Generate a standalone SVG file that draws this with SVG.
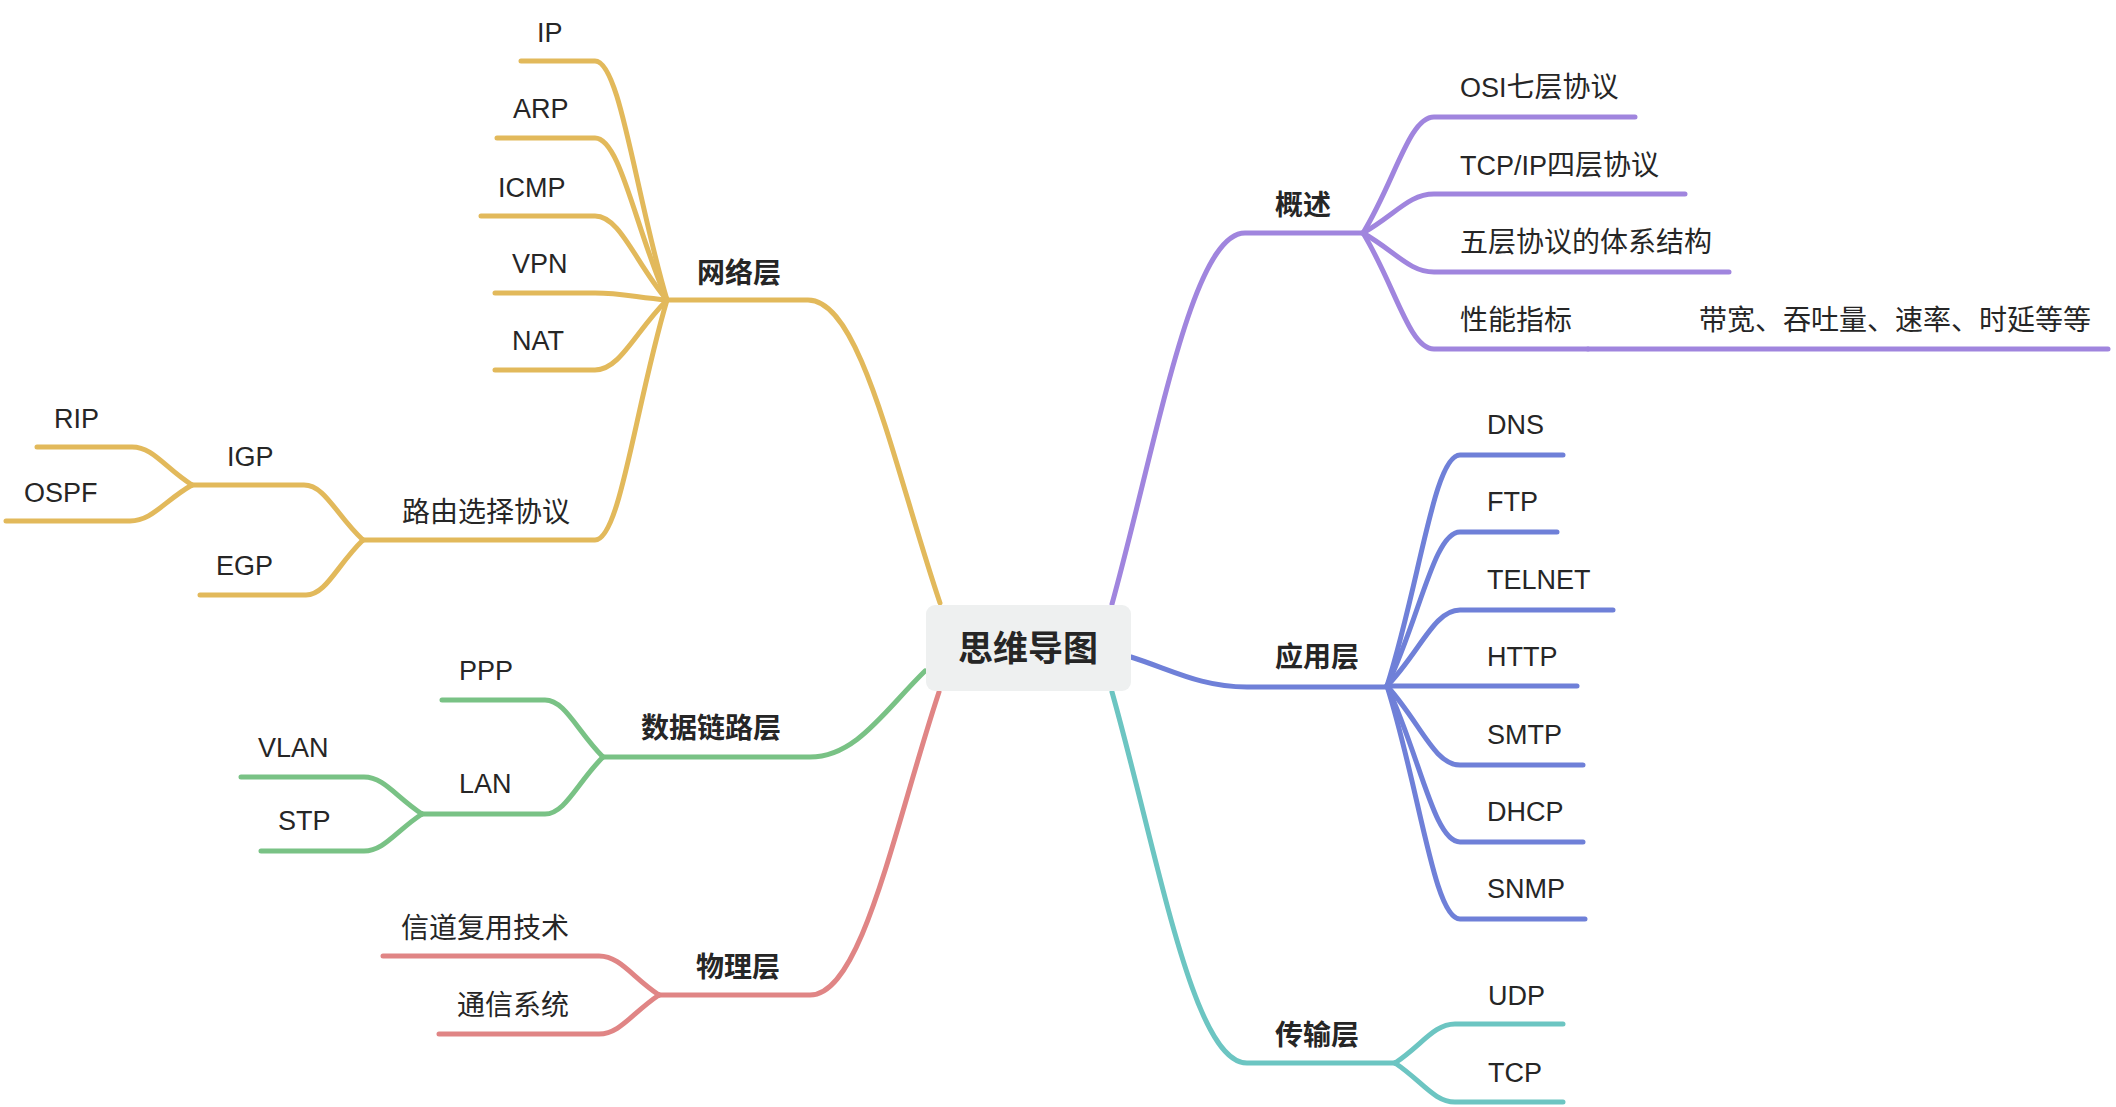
<svg xmlns="http://www.w3.org/2000/svg" width="2116" height="1107" viewBox="0 0 2116 1107">
  <style>
    .ln { fill: none; stroke-width: 5; stroke-linecap: round; stroke-linejoin: round; }
    .y { stroke: #E2B95B; }
    .p { stroke: #A085DE; }
    .b { stroke: #6F80D8; }
    .t { stroke: #6CC5C2; }
    .g { stroke: #79C285; }
    .r { stroke: #E08585; }
    text { font-family: "Liberation Sans", "Noto Sans CJK SC", sans-serif; font-size: 27px; fill: #262626; }
    .cjk { font-size: 28px; }
    .main { font-weight: bold; font-size: 28px; }
    .root { font-weight: bold; font-size: 35px; text-anchor: middle; }
  </style>

  <rect width="2116" height="1107" fill="#FFFFFF"/>

  <!-- branch lines -->
  <g id="connectors">
    <!-- 网络层 -->
    <path class="ln y" d="M940,603 C894,467 861,300 808,300 H667"/>
    <path class="ln y" d="M667,300 C635,192 620,61 595,61 H521"/>
    <path class="ln y" d="M667,300 C635,227 620,138 595,138 H497"/>
    <path class="ln y" d="M667,300 C635,262 620,216 595,216 H481"/>
    <path class="ln y" d="M667,300 C635,297 620,293 595,293 H495"/>
    <path class="ln y" d="M667,300 C635,332 620,370 595,370 H495"/>
    <path class="ln y" d="M667,300 C635,408 620,540 595,540 H363"/>
    <path class="ln y" d="M363,540 C336,515 325,485 304,485 H192"/>
    <path class="ln y" d="M363,540 C337,565 326,595 306,595 H200"/>
    <path class="ln y" d="M192,485 C165,468 153,447 132,447 H37"/>
    <path class="ln y" d="M192,485 C164,501 152,521 130,521 H6"/>

    <!-- 数据链路层 -->
    <path class="ln g" d="M925,671 C885,710 856,757 810,757 H603"/>
    <path class="ln g" d="M603,757 C577,731 565,700 545,700 H442"/>
    <path class="ln g" d="M603,757 C577,783 565,814 545,814 H422"/>
    <path class="ln g" d="M422,814 C396,797 384,777 364,777 H241"/>
    <path class="ln g" d="M422,814 C396,831 384,851 364,851 H261"/>

    <!-- 物理层 -->
    <path class="ln r" d="M939,692 C894,828 862,995 810,995 H659"/>
    <path class="ln r" d="M659,995 C632,977 620,956 599,956 H383"/>
    <path class="ln r" d="M659,995 C632,1013 620,1034 599,1034 H439"/>

    <!-- 概述 -->
    <path class="ln p" d="M1112,604 C1158,437 1192,233 1245,233 H1363"/>
    <path class="ln p" d="M1363,233 C1395,181 1409,117 1434,117 H1635"/>
    <path class="ln p" d="M1363,233 C1395,215 1409,194 1434,194 H1685"/>
    <path class="ln p" d="M1363,233 C1395,251 1409,272 1434,272 H1729"/>
    <path class="ln p" d="M1363,233 C1395,285 1409,349 1434,349 H1588"/>
    <path class="ln p" d="M1588,349 H2108"/>

    <!-- 应用层 -->
    <path class="ln b" d="M1131,657 C1172,670 1201,687 1247,687 H1387"/>
    <path class="ln b" d="M1387,686 C1420,582 1434,455 1460,455 H1563"/>
    <path class="ln b" d="M1387,686 C1420,617 1434,532 1460,532 H1557"/>
    <path class="ln b" d="M1387,686 C1420,652 1434,610 1460,610 H1613"/>
    <path class="ln b" d="M1387,686 H1577"/>
    <path class="ln b" d="M1387,686 C1420,722 1434,765 1460,765 H1583"/>
    <path class="ln b" d="M1387,686 C1420,756 1434,842 1460,842 H1583"/>
    <path class="ln b" d="M1387,686 C1420,791 1434,919 1460,919 H1585"/>

    <!-- 传输层 -->
    <path class="ln t" d="M1112,692 C1159,859 1193,1063 1247,1063 H1395"/>
    <path class="ln t" d="M1395,1063 C1422,1045 1434,1024 1455,1024 H1563"/>
    <path class="ln t" d="M1395,1063 C1422,1081 1434,1102 1455,1102 H1563"/>
  </g>

  <!-- central topic -->
  <g id="root">
    <rect x="926" y="605" width="205" height="86" rx="9" fill="#EEF0F0"/>
    <text class="root" x="1028" y="661">思维导图</text>
  </g>

  <!-- 网络层 -->
  <g id="network"><text class="main" x="697" y="283">网络层</text></g>
  <g id="ip"><text x="537" y="42">IP</text></g>
  <g id="arp"><text x="513" y="118">ARP</text></g>
  <g id="icmp"><text x="498" y="197">ICMP</text></g>
  <g id="vpn"><text x="512" y="273">VPN</text></g>
  <g id="nat"><text x="512" y="350">NAT</text></g>
  <g id="routing"><text class="cjk" x="402" y="522">路由选择协议</text></g>
  <g id="igp"><text x="227" y="466">IGP</text></g>
  <g id="egp"><text x="216" y="575">EGP</text></g>
  <g id="rip"><text x="54" y="428">RIP</text></g>
  <g id="ospf"><text x="24" y="502">OSPF</text></g>

  <!-- 数据链路层 -->
  <g id="datalink"><text class="main" x="641" y="738">数据链路层</text></g>
  <g id="ppp"><text x="459" y="680">PPP</text></g>
  <g id="lan"><text x="459" y="793">LAN</text></g>
  <g id="vlan"><text x="258" y="757">VLAN</text></g>
  <g id="stp"><text x="278" y="830">STP</text></g>

  <!-- 物理层 -->
  <g id="physical"><text class="main" x="696" y="977">物理层</text></g>
  <g id="multiplexing"><text class="cjk" x="401" y="938">信道复用技术</text></g>
  <g id="comm"><text class="cjk" x="457" y="1015">通信系统</text></g>

  <!-- 概述 -->
  <g id="overview"><text class="main" x="1275" y="215">概述</text></g>
  <g id="osi"><text x="1460" y="97">OSI<tspan class="cjk">七层协议</tspan></text></g>
  <g id="tcpip"><text x="1460" y="175">TCP/IP<tspan class="cjk">四层协议</tspan></text></g>
  <g id="five"><text class="cjk" x="1460" y="252">五层协议的体系结构</text></g>
  <g id="metrics"><text class="cjk" x="1460" y="330">性能指标</text></g>
  <g id="metrics-detail"><text class="cjk" x="1699" y="330">带宽、吞吐量、速率、时延等等</text></g>

  <!-- 应用层 -->
  <g id="application"><text class="main" x="1275" y="667">应用层</text></g>
  <g id="dns"><text x="1487" y="434">DNS</text></g>
  <g id="ftp"><text x="1487" y="511">FTP</text></g>
  <g id="telnet"><text x="1487" y="589">TELNET</text></g>
  <g id="http"><text x="1487" y="666">HTTP</text></g>
  <g id="smtp"><text x="1487" y="744">SMTP</text></g>
  <g id="dhcp"><text x="1487" y="821">DHCP</text></g>
  <g id="snmp"><text x="1487" y="898">SNMP</text></g>

  <!-- 传输层 -->
  <g id="transport"><text class="main" x="1275" y="1045">传输层</text></g>
  <g id="udp"><text x="1488" y="1005">UDP</text></g>
  <g id="tcp"><text x="1488" y="1082">TCP</text></g>
</svg>
